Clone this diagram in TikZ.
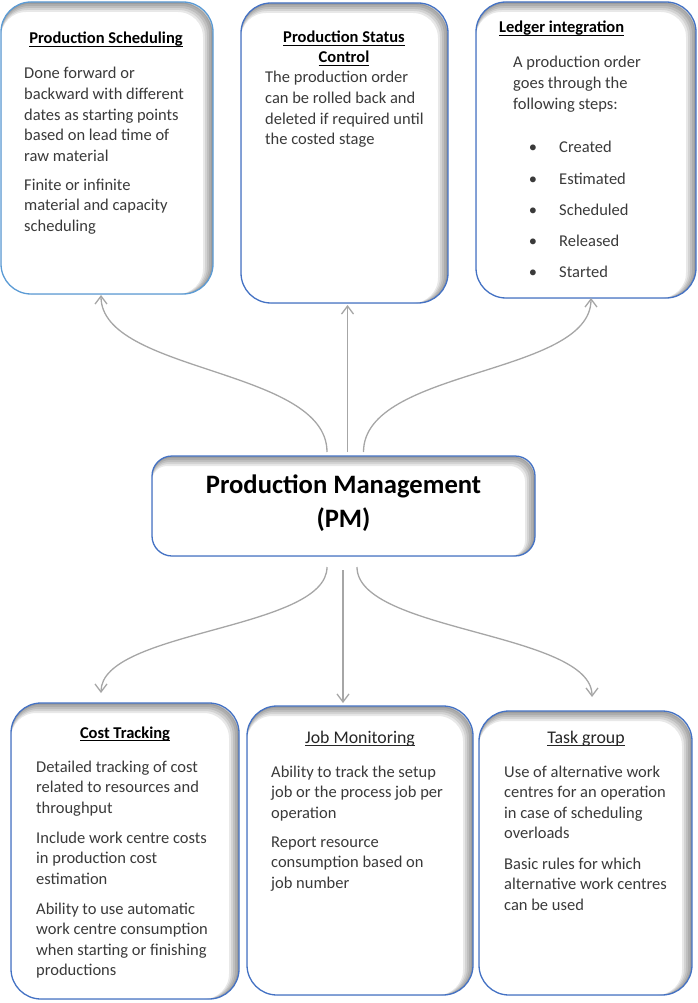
\documentclass[tikz,border=0pt]{standalone}
\usepackage{fontspec}
\setmainfont{Carlito}
\usetikzlibrary{arrows.meta,calc}
\definecolor{bordA}{HTML}{4472C4}
\definecolor{bordB}{HTML}{5B9BD5}
\definecolor{argray}{HTML}{A6A6A6}
\definecolor{txt}{HTML}{3A3A3A}
\newcommand\myul[1]{\setbox0\hbox{#1}\rlap{\rule[-2.8pt]{\wd0}{0.9pt}}\box0}
\newcommand\tlines[4]{\foreach \t [count=\i from 0] in {#4} {\node[bodytext, name=#1\i] at (#2, #3+\i*20.6) {\t};}}
\tikzset{
  innershadow/.style={path picture={\foreach \s in {1,...,5}{\draw[black, opacity=0.09, line width={2*\s}, rounded corners=#1] ([shift={(-\s,\s)}]path picture bounding box.south west) rectangle ([shift={(-\s,\s)}]path picture bounding box.north east);}}},
  pbox/.style={draw=bordA, line width=1.3pt, fill=white, rounded corners=#1, inner sep=0pt, outer sep=0pt, innershadow=#1},
  bodytext/.style={anchor=base west, inner sep=0pt, text=txt, font=\fontsize{16.5}{20}\selectfont},
  titletext/.style={anchor=base, inner sep=0pt, text=black, font=\bfseries\fontsize{16.5}{20}\selectfont},
  plaintitle/.style={anchor=base, inner sep=0pt, text=black!85, font=\fontsize{17.8}{20}\selectfont},
  conn/.style={draw=argray, line width=1.3pt, -{Straight Barb[length=8pt,width=12pt,line width=1.3pt]}},
}
\begin{document}
\begin{tikzpicture}[x=1pt,y=-1pt]
\useasboundingbox (0,0) rectangle (698,1003);
% boxes
\node[pbox=30pt, draw=bordB, minimum width=212pt, minimum height=292pt] (b1) at (107,148) {};
\node[pbox=30pt, minimum width=207pt, minimum height=300pt] (b2) at (344.5,153) {};
\node[pbox=30pt, minimum width=220pt, minimum height=296pt] (b3) at (586,150) {};
\node[pbox=20pt, minimum width=383pt, minimum height=100pt] (pm) at (343.5,506) {};
\node[pbox=30pt, minimum width=228pt, minimum height=296pt] (b4) at (125,851) {};
\node[pbox=30pt, minimum width=226pt, minimum height=289pt] (b5) at (360,850.5) {};
\node[pbox=30pt, minimum width=213pt, minimum height=284pt] (b6) at (585.5,853) {};
% box 1
\node[titletext] (t1) at (106,44) {\myul{Production Scheduling}};
\tlines{a}{24}{79}{Done forward or, backward with different, dates as starting points, based on lead time of, raw material}
\tlines{c}{24}{190}{Finite or infinite, material and capacity, scheduling}
% box 2
\node[titletext] (t2a) at (344,43) {\myul{Production Status}};
\node[titletext] (t2b) at (344,63) {\myul{Control}};
\tlines{d}{265}{83}{The production order, can be rolled back and, deleted if required until, the costed stage}
% box 3
\node[titletext, anchor=base west] (t3) at (499,33) {\myul{Ledger integration}};
\tlines{e}{513}{68}{A production order, goes through the, following steps:}
\foreach \w [count=\i from 0] in {Created, Estimated, Scheduled, Released, Started}{
  \node[bodytext, anchor=base, name=bu\i] at (533,153+\i*31.2) {\textbullet};
  \node[bodytext, name=st\i] at (559,153+\i*31.2) {\w};
}
% centre
\node[anchor=base, inner sep=0pt, font=\bfseries\fontsize{26.6}{30}\selectfont] (pm1) at (343.5,493) {Production Management};
\node[anchor=base, inner sep=0pt, font=\bfseries\fontsize{26.6}{30}\selectfont] (pm2) at (343.5,527) {(PM)};
% box 4
\node[titletext] (t4) at (125,738) {\myul{Cost Tracking}};
\tlines{f}{36}{772}{Detailed tracking of cost, related to resources and, throughput}
\tlines{g}{36}{843}{Include work centre costs, in production cost, estimation}
\tlines{h}{36}{914}{Ability to use automatic, work centre consumption, when starting or finishing, productions}
% box 5
\node[plaintitle] (t5) at (360,743) {\myul{Job Monitoring}};
\tlines{j}{271}{777}{Ability to track the setup, job or the process job per, operation}
\tlines{k}{271}{847}{Report resource, consumption based on, job number}
% box 6
\node[plaintitle] (t6) at (586,743) {\myul{Task group}};
\tlines{m}{504}{777}{Use of alternative work, centres for an operation, in case of scheduling, overloads}
\tlines{n}{504}{869}{Basic rules for which, alternative work centres, can be used}
% connector ends
\coordinate (pmU1) at ([xshift=-16.5pt,yshift=4pt]pm.north);
\coordinate (pmU2) at ([xshift=4pt,yshift=4pt]pm.north);
\coordinate (pmU3) at ([xshift=20pt,yshift=4pt]pm.north);
\coordinate (b1B) at ([xshift=-6pt,yshift=-1pt]b1.south);
\coordinate (b2B) at ([xshift=3pt,yshift=-2pt]b2.south);
\coordinate (b3B) at ([xshift=5pt,yshift=-0pt]b3.south);
\coordinate (pmD1) at ([xshift=-16.5pt,yshift=-11pt]pm.south);
\coordinate (pmD2) at ([xshift=-0.5pt,yshift=-14pt]pm.south);
\coordinate (pmD3) at ([xshift=13.5pt,yshift=-11pt]pm.south);
\coordinate (b4T) at ([xshift=-24pt,yshift=10pt]b4.north);
\coordinate (b5T) at ([xshift=-17pt,yshift=3pt]b5.north);
\coordinate (b6T) at ([xshift=6.5pt,yshift=14pt]b6.north);
% connectors
\draw[conn] (pmU1) .. controls +(0,-84) and +(0,78) .. (b1B);
\draw[conn] (pmU2) -- (b2B);
\draw[conn] (pmU3) .. controls +(0,-84) and +(0,78) .. (b3B);
\draw[conn] (pmD1) .. controls +(0,63) and +(0,-63) .. (b4T);
\draw[conn] (pmD2) -- (b5T);
\draw[conn] (pmD3) .. controls +(0,65) and +(0,-65) .. (b6T);
\end{tikzpicture}
\end{document}
